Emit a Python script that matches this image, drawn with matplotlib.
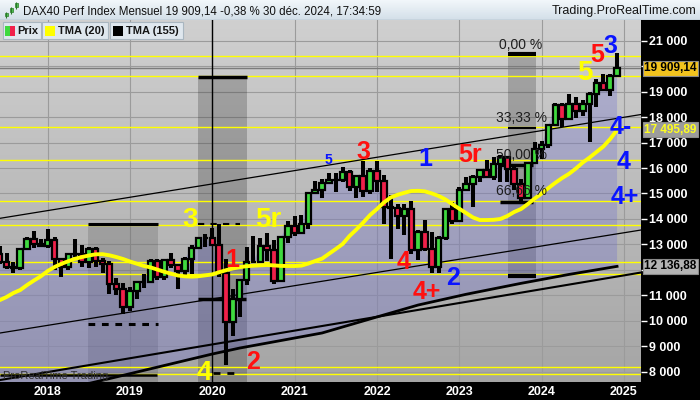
import numpy as np
import matplotlib
matplotlib.use('Agg')
import matplotlib.pyplot as plt
from matplotlib.patches import Rectangle
from matplotlib.colors import LinearSegmentedColormap
import matplotlib.transforms as mtrans

plt.rcParams['font.family'] = ['Liberation Sans', 'DejaVu Sans']

# monthly bars Jun 2017 .. Dec 2024 (index 0 = Jun 2017)
opens = [12615, 12325, 12118, 12055, 12829, 13230, 13024,
         12918, 13189, 12436, 12097, 12612, 12605, 12306, 12806, 12364, 12247, 11447, 11257,
         10559, 11173, 11516, 11526, 12344, 11727, 12399, 12189, 11939, 12428, 12867, 13236,
         13249, 12982, 11890, 9936, 10862, 11587, 12311, 12313, 12945, 12761, 11556, 13291,
         13719, 13433, 13786, 15008, 15136, 15421, 15531, 15544, 15835, 15261, 15689, 15100,
         15885, 15471, 14461, 14415, 14098, 14388, 12784, 13484, 12835, 12114, 13254, 14397,
         13924, 15128, 15365, 15629, 15922, 15664, 16148, 16447, 15947, 15386, 14810, 16215,
         16752, 16904, 17678, 18492, 17932, 18498, 18235, 18509, 18907, 19325, 19078, 19626]
highs = [12951, 12676, 12325, 12844, 13299, 13526, 13199,
         13597, 13276, 12458, 12641, 13205, 12979, 12886, 12887, 12460, 12352, 11671, 11467,
         11330, 11540, 11823, 12435, 12437, 12438, 12656, 12206, 12494, 12986, 13289, 13425,
         13640, 13795, 12441, 11229, 11620, 12913, 13314, 13242, 13460, 13161, 13332, 13903,
         14131, 14169, 15008, 15502, 15569, 15803, 15811, 16030, 15933, 15737, 16290, 16003,
         16285, 15737, 14925, 14600, 14575, 14710, 13571, 13948, 13500, 13314, 14432, 14675,
         15270, 15658, 15706, 15934, 16331, 16427, 16528, 16470, 16043, 15575, 16215, 17003,
         17049, 17700, 18567, 18567, 18893, 18785, 18689, 18970, 19491, 19675, 19680, 20523]
lows = [12214, 12014, 11868, 12010, 12826, 12848, 12910,
        12871, 12003, 11727, 11991, 12515, 12104, 12087, 12109, 11865, 11051, 11009, 10279,
        10387, 10864, 11299, 11520, 11620, 11620, 12090, 11266, 11803, 11847, 12840, 12888,
        12948, 11725, 8256, 9393, 10160, 11424, 12250, 12253, 12341, 11450, 11530, 13072,
        13310, 13400, 13622, 14990, 14817, 15395, 15068, 15436, 15100, 14819, 14876, 14987,
        15049, 13807, 12439, 13619, 13381, 12618, 12391, 12750, 11862, 11869, 13168, 13792,
        13900, 15085, 14458, 15467, 15629, 15544, 15456, 15469, 15139, 14630, 14778, 16183,
        16346, 16800, 17659, 17626, 17899, 17951, 18060, 17024, 18415, 19030, 18816, 19626]
closes = [12325, 12118, 12055, 12829, 13230, 13024, 12918,
          13189, 12436, 12097, 12612, 12605, 12306, 12806, 12364, 12247, 11447, 11257, 10559,
          11173, 11516, 11526, 12344, 11727, 12399, 12189, 11939, 12428, 12867, 13236, 13249,
          12982, 11890, 9936, 10862, 11587, 12311, 12313, 12945, 12761, 11556, 13291, 13719,
          13433, 13786, 15008, 15136, 15421, 15531, 15544, 15835, 15261, 15689, 15100, 15885,
          15471, 14461, 14415, 14098, 14388, 12784, 13484, 12835, 12114, 13254, 14397, 13924,
          15128, 15365, 15629, 15922, 15664, 16148, 16447, 15947, 15386, 14810, 16215, 16752,
          16904, 17678, 18492, 17932, 18498, 18235, 18509, 18907, 19325, 19078, 19626, 19909.14]

# TMA (20), one value per month
tma20 = [10810,
         10933, 11090, 11208, 11404, 11581, 11746, 11954, 12111, 12237, 12339,
         12433, 12504, 12563, 12610, 12615, 12571, 12504, 12425, 12327, 12241,
         12155, 12096, 12009, 11923, 11848, 11777, 11746, 11734, 11750, 11785,
         11821, 11907, 11986, 12056, 12107, 12143, 12162, 12178, 12190, 12174,
         12155, 12151, 12151, 12167, 12249, 12347, 12441, 12630, 12818, 13015,
         13329, 13584, 13859, 14154, 14389, 14645, 14841, 14947, 15026, 15096,
         15104, 15081, 15002, 14900, 14763, 14578, 14401, 14232, 14056, 13957,
         13957, 13965, 13997, 14115, 14272, 14389, 14586, 14802, 14998, 15214,
         15419, 15607, 15772, 15980, 16216, 16412, 16628, 16844, 17139, 17495.89]

# TMA (155) read at a few months
tma155_idx = [0, 7, 14, 21, 31, 35, 39, 47, 55, 61, 68, 76, 83, 90]
tma155 = [6730, 7160, 7600, 8050, 8694, 8929, 9125, 9520, 10150, 10618, 11040, 11470, 11820, 12136.88]

years = ['2018', '2019', '2020', '2021', '2022', '2023', '2024', '2025']
year_idx = [7, 19, 31, 43, 55, 67, 79, 91]

yellow_levels = [20399, 19605, 17598, 16305, 14700, 13745, 12300, 11833, 8172, 7902]

fib_labels = ['0,00 %', '33,33 %', '50,00 %', '66,66 %']
fib_label_prices = [20831, 17964, 16511, 15097]

# wave labels: text, colour, month index, price, size
waves = [('3', '#ffff00', 27.7, 13957, 20), ('5r', '#ffff00', 39.1, 13957, 20),
         ('4', '#ffff00', 29.8, 7948, 20), ('5', '#ffff00', 85.3, 19731, 20),
         ('1', '#ff1010', 33.9, 12386, 18), ('2', '#ff1010', 36.9, 8380, 18),
         ('3', '#ff1010', 53.0, 16628, 18), ('4', '#ff1010', 58.9, 12308, 18),
         ('4+', '#ff1010', 62.2, 11130, 18), ('5r', '#ff1010', 68.6, 16511, 18),
         ('5', '#ff1010', 87.1, 20438, 18),
         ('5', '#0a14ff', 47.9, 16314, 10), ('1', '#0a14ff', 62.0, 16353, 18),
         ('2', '#0a14ff', 66.1, 11680, 18), ('3', '#0a14ff', 89.1, 20792, 18),
         ('4-', '#0a14ff', 90.6, 17610, 18), ('4', '#0a14ff', 91.0, 16236, 18),
         ('4+', '#0a14ff', 91.2, 14861, 18)]

n = len(closes)
idx = np.arange(n)
x0, x1 = 0.052, 93.49
y0, y1 = 7595, 21813

fig = plt.figure(figsize=(7, 4), dpi=100, facecolor='black')

def fx(px):
    return px / 700.0

def fy(py):
    return 1 - py / 400.0

ax = fig.add_axes([0, fy(382), fx(641), 362 / 400.0])

# background
bg = LinearSegmentedColormap.from_list('bg', ['#d0d0d0', '#a5a5a5'])
ax.imshow(np.linspace(0, 1, 256).reshape(-1, 1), extent=[x0, x1, y0, y1],
          aspect='auto', cmap=bg, origin='upper', zorder=0)

for v in range(8000, 22000, 1000):
    ax.axhline(v, color='#9b9b9b', lw=0.8, zorder=1)
for k in year_idx:
    ax.axvline(k, color='#9b9b9b', lw=0.8, zorder=1)

# shaded zones
ax.add_patch(Rectangle((12.88, 7000), 10.2, 13790 - 7000, fc='black', alpha=0.13, lw=0, zorder=2))
ax.add_patch(Rectangle((28.91, 7000), 7.15, 19562 - 7000, fc='black', alpha=0.2, lw=0, zorder=2))
ax.add_patch(Rectangle((74.1, 11758), 4.1, 20478 - 11758, fc='black', alpha=0.2, lw=0, zorder=2))

# price area down to TMA (155)
poly_x = np.concatenate([idx, tma155_idx[::-1]])
poly_y = np.concatenate([closes, tma155[::-1]])
ax.fill(poly_x, poly_y, color='#6a6ad0', alpha=0.3, lw=0, zorder=2.5)

for v in yellow_levels:
    ax.axhline(v, color='#ffff00', lw=1.0, zorder=3)
ax.axhline(closes[-1], color='#7c7c7c', lw=1.0, zorder=3)

# trend lines
ax.plot([x0, x1], [14024, 18101], color='black', lw=0.9, zorder=3)
ax.plot([x0, x1], [9519, 13564], color='black', lw=0.9, zorder=3)
ax.plot([x0, x1], [7672, 11895], color='black', lw=1.5, zorder=3)
ax.plot(tma155_idx, tma155, color='black', lw=2.0, zorder=3)
ax.axvline(31, color='black', lw=1.0, zorder=3)

# drawing-tool bars
ax.hlines(13790, 12.88, 23.08, color='black', lw=2.2, zorder=3)
ax.hlines(9872, 12.88, 23.08, color='black', lw=2.2, linestyles=(0, (2.2, 2.2)), zorder=3)
ax.hlines(7889, x0, 23.0, color='black', lw=1.8, zorder=3)
ax.hlines(19562, 28.91, 36.06, color='black', lw=2.5, zorder=3)
ax.hlines(10854, 28.91, 35.9, color='black', lw=2.5, zorder=3)
ax.hlines(13788, 28.91, 35.04, color='black', lw=1.5, linestyles=(0, (3, 3)), zorder=3)
ax.hlines(7947, 31.1, 35.04, color='black', lw=2.0, linestyles=(0, (2.5, 2.5)), zorder=3)
ax.hlines([20478, 11758], 74.1, 78.2, color='black', lw=3, zorder=3)
ax.hlines(17571, 74.1, 78.2, color='black', lw=1.5, zorder=3)
ax.hlines([16118, 14665], 73.0, 77.8, color='black', lw=2.5, zorder=3)

# candles
up = np.array(closes) >= np.array(opens)
ax.vlines(idx, lows, highs, color='black', lw=2.9, zorder=4)
ax.bar(idx, np.array(closes) - np.array(opens), bottom=opens, width=0.8,
       color=np.where(up, '#3fd93f', '#f0204a'), edgecolor='black', lw=1.6, zorder=5)

ax.plot(idx, tma20, color='#ffff00', lw=2.8, zorder=6, solid_capstyle='round')

for t, p in zip(fib_labels, fib_label_prices):
    ax.text(76.0, p, t, ha='center', va='center', fontsize=10, color='#1e1e1e', zorder=7)

for t, c, k, p, s in waves:
    ax.text(k, p, t, ha='center', va='center', fontsize=s, color=c,
            fontweight='bold', zorder=8)

ax.set_xlim(x0, x1)
ax.set_ylim(y0, y1)
for s in ax.spines.values():
    s.set_visible(False)

ax.set_xticks(year_idx)
ax.set_xticklabels(years)
ax.tick_params(axis='x', length=0, pad=3, labelcolor='white', labelsize=9)
ax.yaxis.tick_right()
yt = list(range(8000, 22000, 1000))
ax.set_yticks(yt)
# 20 000 and 12 000 sit under the value tags
ax.set_yticklabels(['' if v in (20000, 12000) else '%d 000' % (v // 1000) for v in yt])
ax.tick_params(axis='y', length=4, width=1, color='white', pad=2, labelcolor='white', labelsize=9)
for lbl in ax.get_xticklabels() + ax.get_yticklabels():
    lbl.set_fontweight('bold')

# value tags on the price scale
tr = mtrans.blended_transform_factory(ax.transAxes, ax.transData)
tags = [(closes[-1], '19 909,14', 'black', '#f2c31e'),
        (tma20[-1], '17 495,89', '#ffff20', '#9c9c9c'),
        (tma155[-1], '12 136,88', 'black', '#b4b4b4')]
for v, t, tc, fc in tags:
    ax.text(1.005, v, t, transform=tr, ha='left', va='center', fontsize=8.5,
            fontweight='bold', color=tc, zorder=9,
            bbox=dict(boxstyle='square,pad=0.12', fc=fc, ec='#8a8a8a', lw=0.8))

fig.text(fx(3), fy(376), 'ProRealTime Trading', ha='left', va='center', fontsize=8,
         color='#303030', zorder=10)

# header bar
hax = fig.add_axes([0, fy(20), 1, 20 / 400.0])
hbg = LinearSegmentedColormap.from_list('hbg', ['#f2f7fb', '#d3dfe8'])
hax.imshow(np.linspace(0, 1, 64).reshape(-1, 1), extent=[0, 700, 20, 0], aspect='auto',
           cmap=hbg, origin='upper')
hax.set_xlim(0, 700)
hax.set_ylim(20, 0)
hax.axis('off')
hax.axhline(19.5, color='#9aaab6', lw=1)
for cx, lo, hi, b0, b1 in [(6, 12, 18, 13, 16), (11, 7, 14, 8, 12), (16, 2, 9, 3, 7)]:
    hax.vlines(cx, lo, hi, color='#2a7a2a', lw=0.8)
    hax.add_patch(Rectangle((cx - 1.5, b0), 3, b1 - b0, fc='#4fc44f', ec='#2a7a2a', lw=0.5))
hax.text(23, 11, 'DAX40 Perf Index Mensuel 19 909,14 -0,38 % 30 déc. 2024, 17:34:59',
         ha='left', va='center', fontsize=8.3, color='#101010')
hax.text(696, 11, 'Trading.ProRealTime.com', ha='right', va='center', fontsize=9,
         color='#151515')

# legend row
for bx0, bx1 in [(3, 41), (42, 108), (110, 183)]:
    fig.add_artist(Rectangle((fx(bx0), fy(39)), fx(bx1 - bx0), 17 / 400.0,
                             transform=fig.transFigure, fc='#dfe7ee', ec='#a9b6c0',
                             lw=0.8, zorder=10))
for sx0, sw, col in [(5, 5, '#3fd93f'), (10, 5, '#f0204a'), (45, 10, '#ffff00'), (113, 10, 'black')]:
    fig.add_artist(Rectangle((fx(sx0), fy(36)), fx(sw), 10 / 400.0,
                             transform=fig.transFigure, fc=col, ec='none', zorder=11))
for tx, t in [(17, 'Prix'), (58, 'TMA (20)'), (126, 'TMA (155)')]:
    fig.text(fx(tx), fy(30.5), t, ha='left', va='center', fontsize=8,
             fontweight='bold', color='#151515', zorder=12)

fig.savefig('out.png', dpi=100, facecolor='black')
